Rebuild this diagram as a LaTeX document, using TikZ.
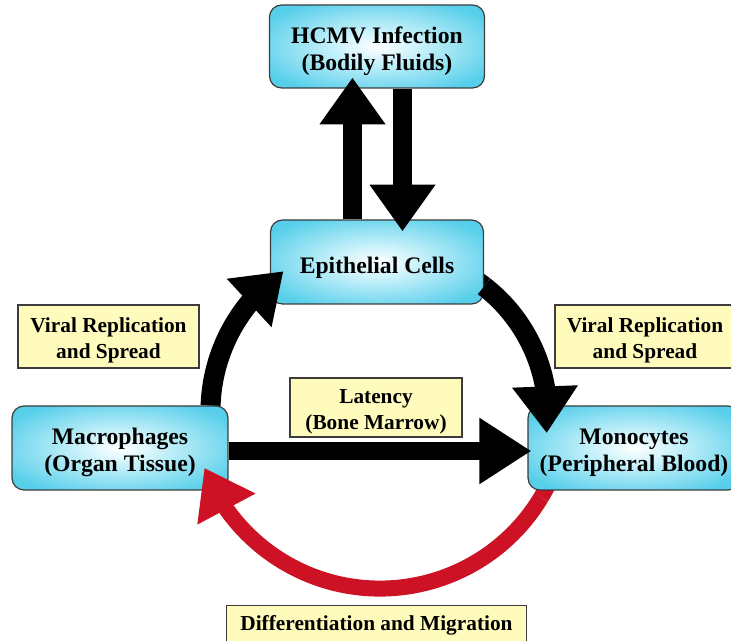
\documentclass[tikz,border=0pt]{standalone}
\usepackage{fontspec}
\setmainfont{Liberation Serif}
\usetikzlibrary{arrows.meta,bending,calc}
\definecolor{boxcyan}{RGB}{88,207,234}
\definecolor{boxpale}{RGB}{205,243,251}
\definecolor{labelyellow}{RGB}{255,251,188}
\definecolor{arcred}{RGB}{204,18,36}
\definecolor{edgegray}{RGB}{60,60,60}
\pgfdeclareradialshading{glow}{\pgfpoint{0bp}{0bp}}{color(0bp)=(white); color(9bp)=(boxpale); color(30bp)=(boxcyan); color(50bp)=(boxcyan)}
\pgfdeclarelayer{behind}
\pgfsetlayers{behind,main}
\begin{document}
\begin{tikzpicture}[x=0.75pt,y=0.75pt,
  cyanbox/.style={draw=edgegray, line width=0.9pt, rounded corners=9pt, shade, shading=glow, inner sep=0pt},
  cyantext/.style={align=center, font=\fontsize{17.75}{20}\selectfont\bfseries, inner sep=0pt},
  yellowbox/.style={draw=edgegray, line width=1.2pt, fill=labelyellow, inner sep=0pt},
  yellowtext/.style={align=center, font=\fontsize{16}{19.5}\selectfont\bfseries, inner sep=0pt},
  blackshaft/.style={draw=black, line width=15pt},
  blackarrow/.style={draw=black, line width=15pt, -{Triangle[length=35pt,width=47pt]}},
  redshaft/.style={draw=arcred, line width=12pt},
  redarrow/.style={draw=arcred, line width=12pt, -{Triangle[length=35pt,width=47pt]}}
]
\useasboundingbox (0,0) rectangle (731,641);

% boxes
\node[cyanbox, minimum width=161.25pt, minimum height=62.25pt] (hcmv) at (377,594.5) {};
\node[cyantext] at ($(hcmv.center)+(0,-4.5)$) {HCMV Infection\\(Bodily Fluids)};
\node[cyanbox, minimum width=159.75pt, minimum height=63pt] (epi) at (377,379) {};
\node[cyantext] at ($(epi.center)+(0,-5.5)$) {Epithelial Cells};
\node[cyanbox, minimum width=162pt, minimum height=63pt] (mac) at (120,193) {};
\node[cyantext] at ($(mac.center)+(0,-4.5)$) {Macrophages\\(Organ Tissue)};
\node[cyanbox, minimum width=159pt, minimum height=63pt] (mono) at (634,193) {};
\node[cyantext] at ($(mono.center)+(0,-4.5)$) {Monocytes\\(Peripheral Blood)};

% labels
\node[yellowbox, minimum width=135.75pt, minimum height=47.25pt] (vl) at (108.5,304.5) {};
\node[yellowtext] at ($(vl.center)+(0,-4)$) {Viral Replication\\and Spread};
\node[yellowbox, minimum width=135pt, minimum height=47.25pt] (vr) at (645,304.5) {};
\node[yellowtext] at ($(vr.center)+(0,-4)$) {Viral Replication\\and Spread};
\node[yellowbox, minimum width=129pt, minimum height=44.25pt] (lat) at (376,233.5) {};
\node[yellowtext] at ($(lat.center)+(0,-4)$) {Latency\\(Bone Marrow)};
\node[yellowbox, minimum width=225pt, minimum height=31pt] (diff) at (376.5,15) {};
\node[yellowtext] at ($(diff.center)+(0,1)$) {Differentiation and Migration};

% shaft pieces hidden behind the boxes
\begin{pgfonlayer}{behind}
\draw[blackshaft] ($(epi.east)+(0,-24.4)$) arc[start angle=52.2, end angle=64, radius=164];
\draw[redshaft] ($(mono.south)+(-92.9,-6.8)$) arc[start angle=-31, end angle=-20, radius=188];
\end{pgfonlayer}

% connectors
\draw[blackarrow, line width=14.25pt] ($(epi.north)+(-24.5,0)$) -- ($(hcmv.south)+(-24.5,11)$);
\draw[blackarrow, line width=14.25pt] ($(hcmv.south)+(25.5,0)$) -- ($(epi.north)+(25.5,-12)$);
\draw[blackarrow] ($(mac.north east)+(-18,0)$) arc[start angle=178, end angle=125, radius=171];
\draw[blackarrow] ($(epi.east)+(0,-24.4)$) arc[start angle=52.2, end angle=-6, radius=164];
\draw[blackarrow, line width=13.5pt, -{Triangle[length=39pt,width=47pt]}] ($(mac.east)+(0,-3)$) -- ($(mono.west)+(4,-3)$);
\draw[redarrow] ($(mono.south)+(-92.9,-6.8)$) arc[start angle=-31, end angle=-159, radius=188];
\end{tikzpicture}
\end{document}
